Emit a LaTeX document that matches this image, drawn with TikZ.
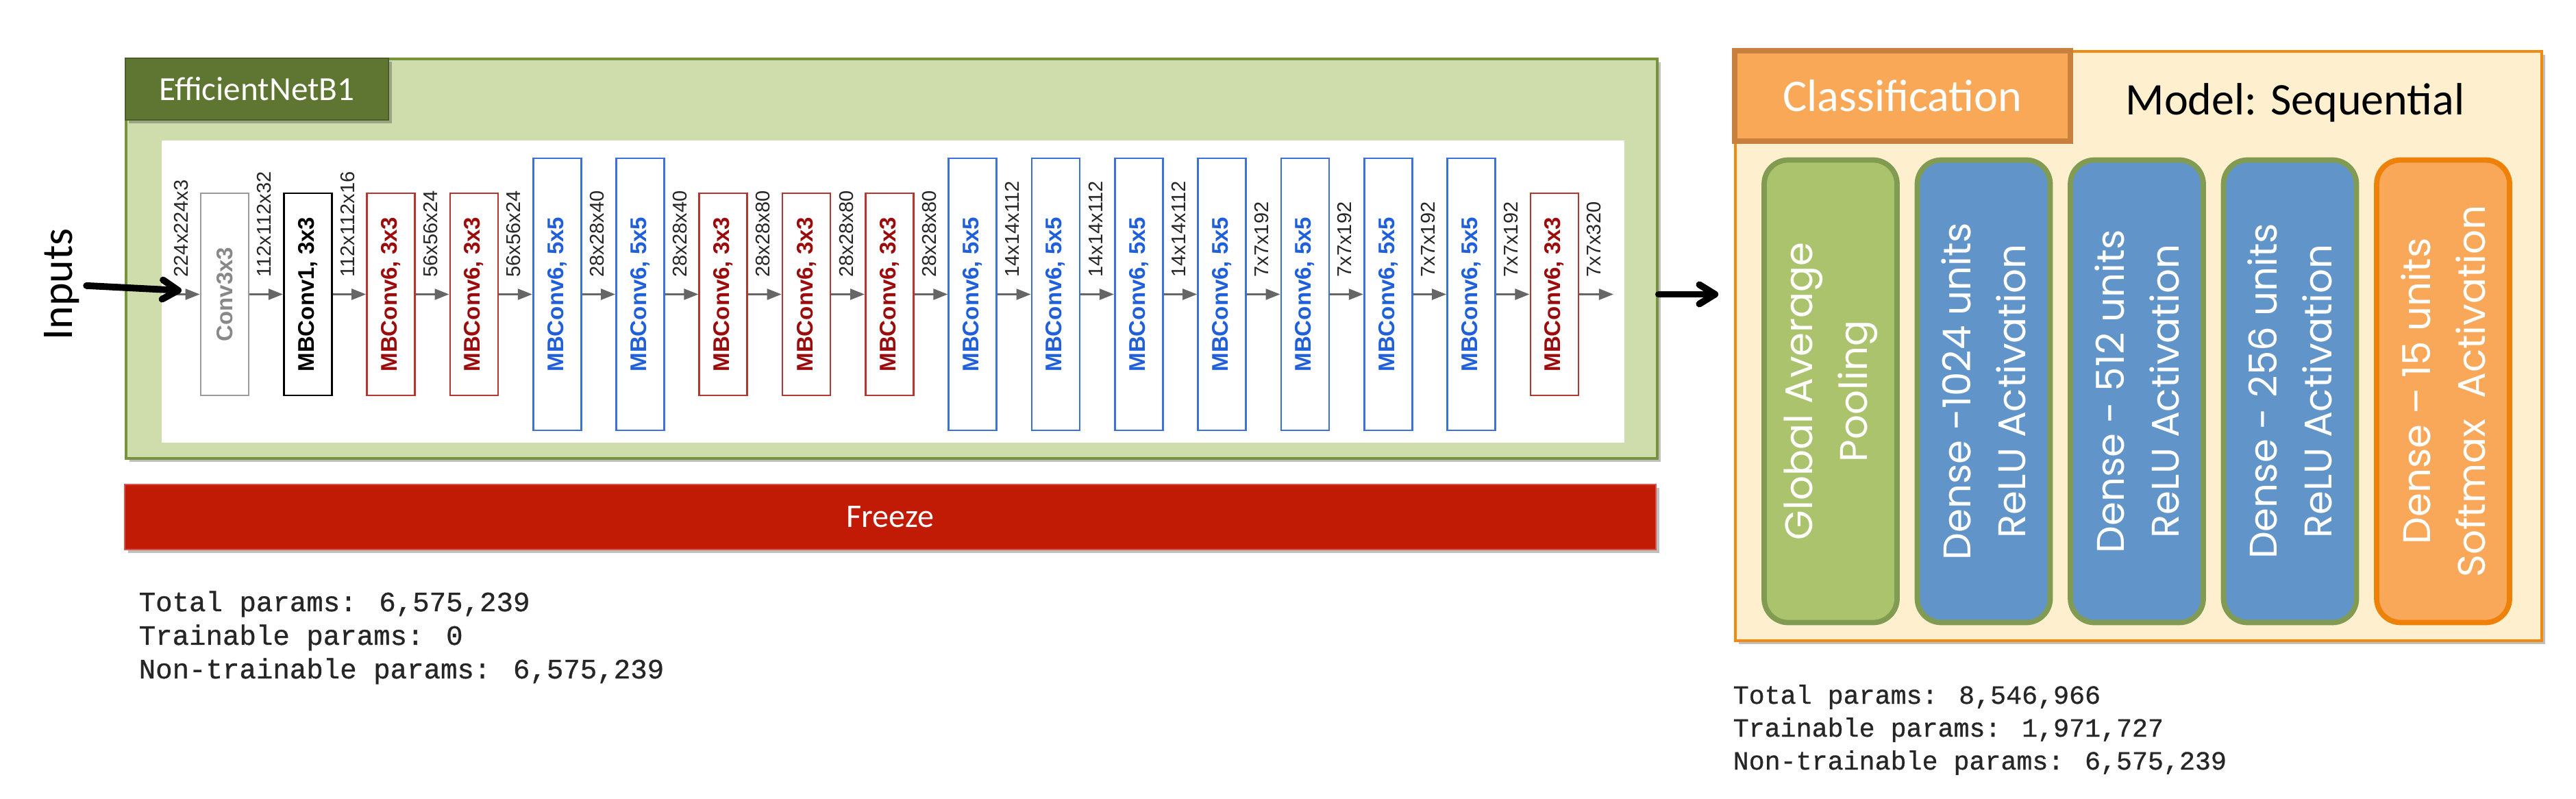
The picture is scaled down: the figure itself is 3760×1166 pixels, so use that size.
\documentclass[tikz,border=0pt]{standalone}
\usepackage{fontspec}
\setmainfont{Carlito}
\newfontfamily\arialfont{Liberation Sans}
\newfontfamily\codefont[FakeBold=0.8]{Liberation Mono}
\newfontfamily\geofont{Poppins}
\usetikzlibrary{arrows.meta,shadows}
\definecolor{effline}{HTML}{77933C}
\definecolor{efffill}{HTML}{CFDDAD}
\definecolor{efftitle}{HTML}{5F7532}
\definecolor{freezefill}{HTML}{C11B05}
\definecolor{freezeline}{HTML}{D9534F}
\definecolor{convline}{HTML}{9A9A9A}
\definecolor{convtext}{HTML}{888888}
\definecolor{redline}{HTML}{B5352F}
\definecolor{redtext}{HTML}{9B0B0B}
\definecolor{blueline}{HTML}{3C72D8}
\definecolor{bluetext}{HTML}{1F5FD9}
\definecolor{pipegray}{HTML}{666666}
\definecolor{seqfill}{HTML}{FEF0CE}
\definecolor{seqline}{HTML}{F08A12}
\definecolor{clsfill}{HTML}{F9A858}
\definecolor{clsline}{HTML}{C8803F}
\definecolor{gapfill}{HTML}{AAC36C}
\definecolor{gapline}{HTML}{819C52}
\definecolor{densefill}{HTML}{6194C8}
\definecolor{softfill}{HTML}{F9A758}
\definecolor{softline}{HTML}{EE8208}
\newcommand{\dimfont}{\arialfont\fontsize{8.25}{9}\selectfont}
\newcommand{\blkfont}{\arialfont\bfseries\fontsize{9.4}{10}\selectfont}
\newcommand{\headfont}{\fontsize{18.8}{22}\selectfont}
\newcommand{\colfont}{\geofont\fontsize{16}{22.8}\selectfont}
\tikzset{
 panel shadow/.style={drop shadow={shadow xshift=1.5pt,shadow yshift=-1.5pt,opacity=.25,fill=black}},
 effbox/.style={draw=effline,fill=efffill,line width=1.1pt,inner sep=0pt,panel shadow},
 titlebox/.style={draw=efftitle!80!black,fill=efftitle,line width=.6pt,text=white,font=\fontsize{14}{16}\selectfont,inner sep=0pt,panel shadow},
 freezebar/.style={draw=freezeline,fill=freezefill,line width=.6pt,text=white,font=\fontsize{13.7}{16}\selectfont,inner sep=0pt,panel shadow},
 blk/.style={draw,rotate=90,fill=white,line width=.75pt,font=\blkfont,minimum height=7mm,inner sep=0pt},
 conv/.style={blk,draw=convline,text=convtext,minimum width=29.5mm},
 mbone/.style={blk,draw=black,text=black,minimum width=29.5mm},
 mbred/.style={blk,draw=redline,text=redtext,minimum width=29.5mm},
 mbblue/.style={blk,draw=blueline,text=bluetext,minimum width=39.7mm},
 dimlab/.style={rotate=90,anchor=west,font=\dimfont,text=black!85,inner sep=0pt},
 pipe/.style={-{Triangle[length=6pt,width=4.5pt]},draw=pipegray,line width=.85pt},
 bigarrow/.style={-{Straight Barb[length=6.5pt,width=8pt,round]},draw=black,line width=2.8pt,line cap=round},
 seqbox/.style={draw=seqline,fill=seqfill,line width=1.1pt,inner sep=0pt,panel shadow},
 clsbox/.style={draw=clsline,fill=clsfill,line width=2.2pt,text=white,font=\headfont,inner sep=0pt},
 col/.style={rotate=90,rounded corners=3.5mm,line width=2.2pt,minimum width=67.5mm,minimum height=19.4mm,text=white,font=\colfont,align=center,inner sep=0pt},
 gapcol/.style={col,draw=gapline,fill=gapfill},
 densecol/.style={col,draw=gapline,fill=densefill},
 softcol/.style={col,draw=softline,fill=softfill},
 param/.style={anchor=base west,inner sep=0pt,text=black!85},
}
\begin{document}
\begin{tikzpicture}[x=0.1mm,y=-0.1mm]
\useasboundingbox (0,0) rectangle (3760,1166);

% EfficientNetB1 backbone
\node[effbox,anchor=north west,minimum width=223.5mm,minimum height=58.3mm] (effnet) at (182,84) {};
\node[titlebox,anchor=north west,minimum width=38.4mm,minimum height=9mm] (title) at (182,84) {EfficientNetB1};
\node[fill=white,anchor=north west,minimum width=213.5mm,minimum height=44.1mm,inner sep=0pt] (stage) at (235,204) {};

\foreach \kind/\txt/\outdim [count=\i from 0] in {
  conv/Conv3x3/112x112x32,
  mbone/{MBConv1, 3x3}/112x112x16,
  mbred/{MBConv6, 3x3}/56x56x24,
  mbred/{MBConv6, 3x3}/56x56x24,
  mbblue/{MBConv6, 5x5}/28x28x40,
  mbblue/{MBConv6, 5x5}/28x28x40,
  mbred/{MBConv6, 3x3}/28x28x80,
  mbred/{MBConv6, 3x3}/28x28x80,
  mbred/{MBConv6, 3x3}/28x28x80,
  mbblue/{MBConv6, 5x5}/14x14x112,
  mbblue/{MBConv6, 5x5}/14x14x112,
  mbblue/{MBConv6, 5x5}/14x14x112,
  mbblue/{MBConv6, 5x5}/7x7x192,
  mbblue/{MBConv6, 5x5}/7x7x192,
  mbblue/{MBConv6, 5x5}/7x7x192,
  mbblue/{MBConv6, 5x5}/7x7x192,
  mbred/{MBConv6, 3x3}/7x7x320}
{
  \node[\kind] (b\i) at ({328+121.3*\i},429.5) {\txt};
  \node[dimlab] (d\i) at ({386+121.3*\i},405) {\outdim};
}
\foreach \i [evaluate=\i as \j using int(\i+1)] in {0,...,15}
  \draw[pipe] (b\i) -- (b\j);

\node[dimlab] (din) at (264.7,405) {224x224x3};
\coordinate (feed) at (242,429.5);
\coordinate (outlet) at (2355,429.5);
\draw[pipe] (feed) -- (b0);
\draw[pipe] (b16) -- (outlet);

% inputs
\node[rotate=90,font=\fontsize{18.2}{20}\selectfont,inner sep=0pt] (inputs) at (90,415) {Inputs};
\coordinate (inlet) at (265,424);
\draw[bigarrow,shorten <=2.8pt] (inputs) -- (inlet);

\node[freezebar,minimum width=223.5mm,minimum height=9.5mm] (freeze) at (1299.5,754.5) {Freeze};

\foreach \t [count=\k from 0] in {{Total params: 6,575,239},{Trainable params: 0},{Non-trainable params: 6,575,239}}
  \node[param,font=\codefont\fontsize{11.6}{14}\selectfont] (lp\k) at (202,{892+49*\k}) {\t};

% classification head
\node[seqbox,anchor=north west,minimum width=117.7mm,minimum height=86mm] (seq) at (2531,73) {};
\node[clsbox,anchor=north west,minimum width=49mm,minimum height=13.2mm] (cls) at (2528,70) {Classification};
\node[font=\headfont,inner sep=0pt] (model) at (3350,150) {Model: Sequential};

\node[gapcol] (gap) at (2672,571) {Global Average\\Pooling};
\node[densecol] (d1024) at (2895.5,571) {Dense -1024 units\\ReLU Activation};
\node[densecol] (d512) at (3119,571) {Dense - 512 units\\ReLU Activation};
\node[densecol] (d256) at (3342.5,571) {Dense - 256 units\\ReLU Activation};
\node[softcol] (d15) at (3566,571) {Dense – 15 units\\Softmax~~Activation};

\draw[bigarrow,shorten >=6.5pt] (effnet.east |- b8) -- (seq.west |- b8);

\foreach \t [count=\k from 0] in {{Total params: 8,546,966},{Trainable params: 1,971,727},{Non-trainable params: 6,575,239}}
  \node[param,font=\codefont\fontsize{10.9}{13}\selectfont] (rp\k) at (2529,{1027+48*\k}) {\t};

\end{tikzpicture}
\end{document}
